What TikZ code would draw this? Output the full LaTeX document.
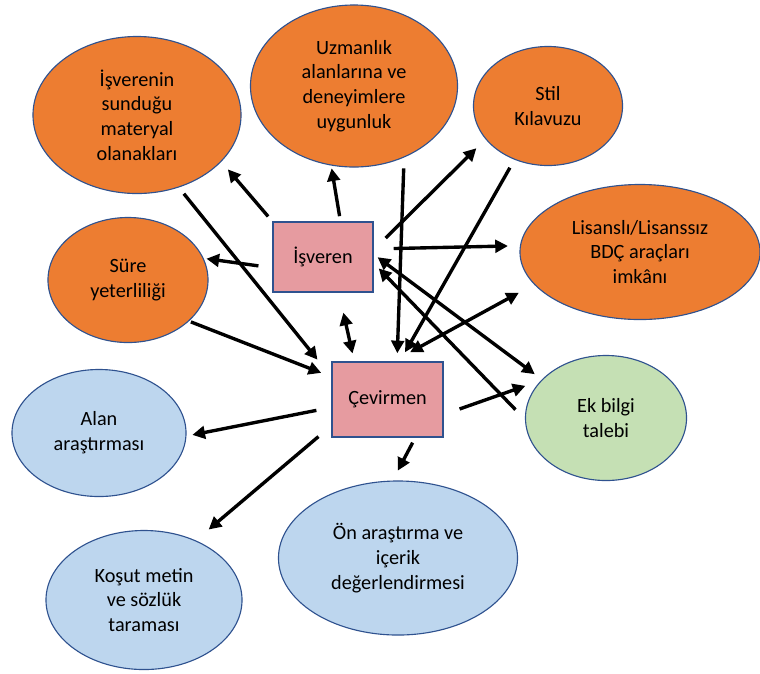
\documentclass[tikz,border=0pt]{standalone}
\usepackage{fontspec}
\setmainfont{Carlito}
\usepackage{tikz}
\usetikzlibrary{shapes.geometric}
\usetikzlibrary{arrows.meta}

\definecolor{turuncu}{RGB}{237,125,49}
\definecolor{pembe}{RGB}{230,155,160}
\definecolor{mavi}{RGB}{189,214,238}
\definecolor{yesil}{RGB}{197,224,180}
\definecolor{kenar}{RGB}{47,82,143}

\tikzset{
	yazi/.style={align=center, font=\fontsize{14.4pt}{17.6pt}\selectfont},
	baloncuk/.style={yazi, ellipse, draw=kenar, line width=0.8pt, inner sep=0pt},
	kutu/.style={yazi, rectangle, draw=kenar, fill=pembe, line width=1pt, inner sep=0pt},
	ok/.style={-{Triangle[length=9pt,width=9pt]}, line width=2.4pt},
	ciftok/.style={{Triangle[length=9pt,width=9pt]}-{Triangle[length=9pt,width=9pt]}, line width=2.4pt}
}

\begin{document}
\begin{tikzpicture}[x=0.025cm, y=-0.025cm]

	\useasboundingbox (0,0) rectangle (760,673);

	% the two boxes
	\node [kutu, minimum width=2.5cm, minimum height=1.75cm] (isv) at (323,257) {İşveren};
	\node [kutu, minimum width=2.775cm, minimum height=1.875cm] (cev) at (387.5,399.5) {Çevirmen};

	% orange bubbles (employer side)
	\node [baloncuk, fill=turuncu, minimum width=5.2cm, minimum height=3.925cm] (isvm) at (137,115) {İşverenin\\sunduğu\\materyal\\olanakları};
	\node [baloncuk, fill=turuncu, minimum width=5.175cm, minimum height=4.05cm] (uzm) at (354,86) {Uzmanlık\\alanlarına ve\\deneyimlere\\uygunluk};
	\node [baloncuk, fill=turuncu, minimum width=3.725cm, minimum height=2.975cm] (stil) at (548,106) {Stil\\Kılavuzu};
	\node [baloncuk, fill=turuncu, minimum width=6.0cm, minimum height=3.375cm] (lis) at (640,252) {Lisanslı/Lisanssız\\BDÇ araçları\\imkânı};
	\node [baloncuk, fill=turuncu, minimum width=4.0cm, minimum height=3.125cm] (sure) at (128,280) {Süre\\yeterliliği};

	% green bubble
	\node [baloncuk, fill=yesil, minimum width=4.025cm, minimum height=3.125cm] (ek) at (606,418) {Ek bilgi\\talebi};

	% blue bubbles (translator side)
	\node [baloncuk, fill=mavi, minimum width=4.35cm, minimum height=3.175cm] (alan) at (99,433) {Alan\\araştırması};
	\node [baloncuk, fill=mavi, minimum width=4.9cm, minimum height=3.475cm] (kosut) at (144,600) {Koşut metin\\ve sözlük\\taraması};
	\node [baloncuk, fill=mavi, minimum width=5.975cm, minimum height=3.85cm] (on) at (398,558) {Ön araştırma ve\\içerik\\değerlendirmesi};

	% arrows from the employer
	\draw [ok, shorten <=0.16cm, shorten >=0.25cm] (isv.north west) -- (isvm.-29);
	\draw [ok, shorten <=0.13cm, shorten >=0.07cm] (isv.64) -- (uzm.-106);
	\draw [ok, shorten <=0.35cm, shorten >=0.07cm] (isv.192) -- (sure.16);
	\draw [ok, shorten <=0.42cm, shorten >=0.32cm] (isv.8) -- (stil.208);
	\draw [ok, shorten <=0.5cm, shorten >=0.3cm] (isv.9) -- (lis.177);
	\draw [ciftok, shorten <=0.12cm, shorten >=0.22cm] (isv.3) -- (ek.149);
	\draw [ok, shorten <=0.34cm, shorten >=0.18cm] (ek.181) -- (isv.-7);
	\draw [ciftok, shorten <=0.51cm, shorten >=0.2cm] (isv.-66) -- (cev.131);

	% arrows into the translator
	\draw [ok, shorten <=0.2cm, shorten >=0.55cm] (isvm.-60) -- (cev.158);
	\draw [ok, shorten <=0.05cm, shorten >=0.27cm] (sure.-34) -- (cev.158);
	\draw [ok, shorten <=0.27cm, shorten >=0.2cm] (uzm.-55) -- (cev.76);
	\draw [ok, shorten <=0.23cm, shorten >=0.26cm] (stil.238) -- (cev.72);
	\draw [ciftok, shorten <=0.47cm, shorten >=0.43cm] (cev.81) -- (lis.197);

	% arrows out of the translator
	\draw [ok, shorten <=0.42cm, shorten >=0.41cm] (cev.-15) -- (ek.150);
	\draw [ok, shorten <=0.38cm, shorten >=0.15cm] (cev.188) -- (alan.-2);
	\draw [ok, shorten <=0.42cm, shorten >=0.42cm] (cev.205) -- (kosut.49);
	\draw [ok, shorten <=0.14cm, shorten >=0.28cm] (cev.-54) -- (on.94);

\end{tikzpicture}
\end{document}
